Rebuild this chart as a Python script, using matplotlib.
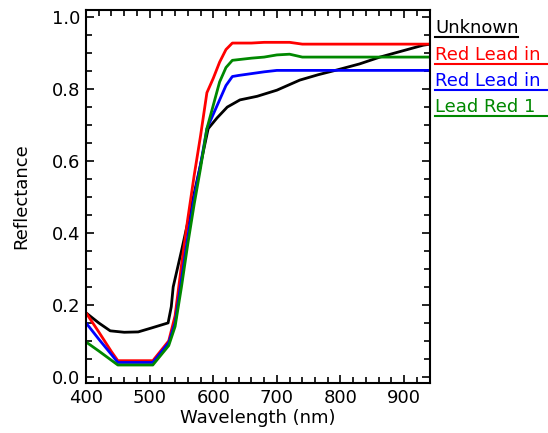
import numpy as np
import matplotlib
matplotlib.use("Agg")
import matplotlib.pyplot as plt
from matplotlib.lines import Line2D
from matplotlib.ticker import MultipleLocator, FormatStrFormatter

# wavelengths (nm) shared by the reference spectra
wl = [400, 420, 440, 450, 460, 480, 505, 530, 540, 550, 560, 570, 580, 590,
      600, 610, 620, 630, 640, 660, 680, 700, 720, 740, 760, 780, 800, 820,
      840, 860, 880, 900, 920, 941]

red_lead_a = [0.178, 0.125, 0.070, 0.045, 0.045, 0.045, 0.045, 0.100, 0.170,
              0.310, 0.440, 0.560, 0.670, 0.790, 0.830, 0.875, 0.910, 0.928,
              0.928, 0.928, 0.930, 0.930, 0.930, 0.925, 0.925, 0.925, 0.925,
              0.925, 0.925, 0.925, 0.925, 0.925, 0.925, 0.925]
red_lead_b = [0.150, 0.105, 0.062, 0.040, 0.040, 0.040, 0.040, 0.095, 0.150,
              0.270, 0.390, 0.500, 0.590, 0.690, 0.730, 0.770, 0.810, 0.835,
              0.838, 0.843, 0.848, 0.852, 0.852, 0.852, 0.852, 0.852, 0.852,
              0.852, 0.852, 0.852, 0.852, 0.852, 0.852, 0.852]
lead_red_1 = [0.097, 0.072, 0.046, 0.033, 0.033, 0.033, 0.033, 0.087, 0.140,
              0.250, 0.370, 0.480, 0.580, 0.690, 0.755, 0.820, 0.860, 0.880,
              0.882, 0.886, 0.889, 0.895, 0.897, 0.889, 0.889, 0.889, 0.889,
              0.889, 0.889, 0.889, 0.889, 0.889, 0.889, 0.889]

# unknown sample
wl_unk = [400, 420, 438, 460, 482, 503, 529, 534, 537, 550, 560, 570, 580,
          592, 606, 622, 642, 669, 700, 736, 765, 794, 830, 862, 895, 930, 941]
unknown = [0.178, 0.150, 0.128, 0.124, 0.125, 0.136, 0.150, 0.195, 0.250,
           0.350, 0.430, 0.510, 0.590, 0.690, 0.720, 0.750, 0.770, 0.780,
           0.797, 0.825, 0.840, 0.853, 0.870, 0.889, 0.905, 0.922, 0.925]

names = ["Unknown", "Red Lead in", "Red Lead in", "Lead Red 1"]
colors = ["black", "#ff0000", "#0000ff", "#008800"]

plt.rcParams['font.family'] = ['DejaVu Sans']
fig = plt.figure(figsize=(5.48, 4.33), dpi=100)
ax = fig.add_axes([0.157, 0.1155, 0.628, 0.8615])

ax.plot(wl_unk, unknown, color=colors[0], lw=2)
ax.plot(wl, red_lead_a, color=colors[1], lw=2)
ax.plot(wl, red_lead_b, color=colors[2], lw=2)
ax.plot(wl, lead_red_1, color=colors[3], lw=2)

ax.set_xlim(400, 941)
ax.set_ylim(-0.017, 1.02)
ax.xaxis.set_major_locator(MultipleLocator(100))
ax.xaxis.set_minor_locator(MultipleLocator(20))
ax.yaxis.set_major_locator(MultipleLocator(0.2))
ax.yaxis.set_minor_locator(MultipleLocator(0.05))
ax.yaxis.set_major_formatter(FormatStrFormatter('%.1f'))
ax.tick_params(which='both', direction='in', top=True, right=True,
               labelsize=13, width=1.2, color='black')
ax.tick_params(which='major', length=6, pad=4)
ax.tick_params(which='minor', length=4)
for s in ax.spines.values():
    s.set_linewidth(1.5)

ax.set_xlabel("Wavelength (nm)", fontsize=13, labelpad=2)
ax.set_ylabel("Reflectance", fontsize=13, labelpad=16)

# legend drawn as underlined text to the right of the plot
W, H = 548.0, 433.0
ends = [518, 548, 548, 548]
for i, (name, c) in enumerate(zip(names, colors)):
    ybase = 33 + i * 26.5
    fig.text(435 / W, 1 - ybase / H, name, color=c, fontsize=13,
             ha='left', va='baseline')
    fig.add_artist(Line2D([435 / W, ends[i] / W],
                          [1 - (ybase + 4) / H, 1 - (ybase + 4) / H],
                          color=c, lw=1.5, transform=fig.transFigure))

fig.savefig("out.png", dpi=100)
